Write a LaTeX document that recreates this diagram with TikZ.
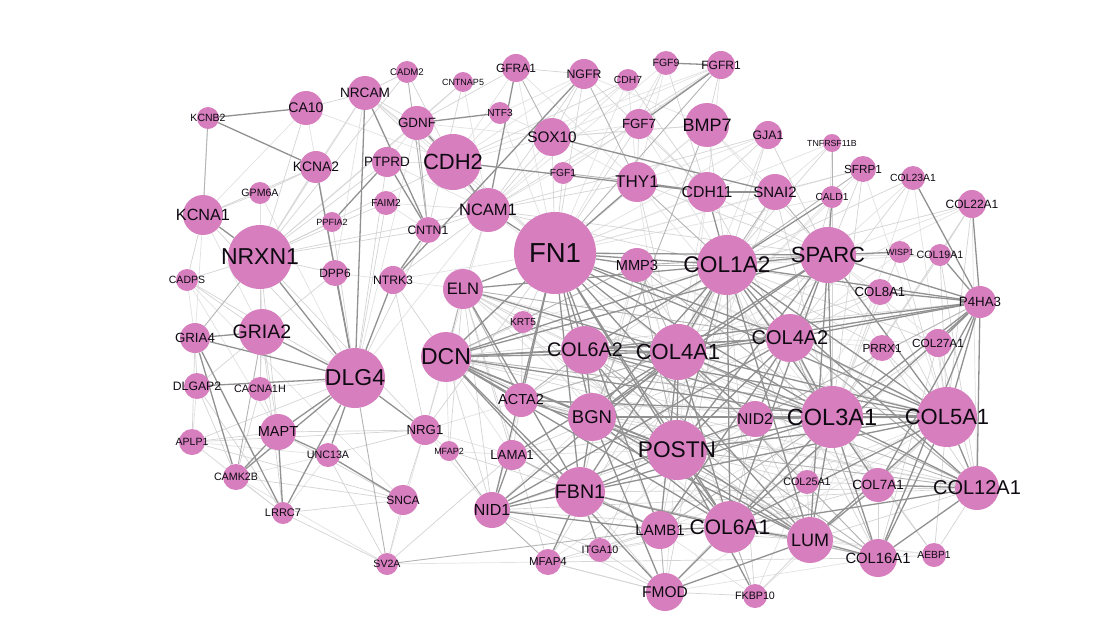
\documentclass[tikz,border=0pt]{standalone}
\usepackage{fontspec}
\setmainfont{Liberation Sans}
\pgfdeclarelayer{bg}
\pgfsetlayers{bg,main}
\definecolor{pk}{RGB}{214,126,190}
\definecolor{lbl}{RGB}{15,10,18}
\definecolor{edk}{RGB}{145,145,145}
\definecolor{emd}{RGB}{180,180,180}
\definecolor{elt}{RGB}{212,212,212}
\definecolor{ext}{RGB}{226,226,226}
\newcommand\zl[1]{\hbox to 0pt{\hss#1\hss}}
\tikzset{
  gn/.style 2 args={circle, fill=pk, draw=none, inner sep=0pt, minimum size={2*#1}, text=lbl, font=\fontsize{#2}{#2}\selectfont},
  ed/.style={draw=edk, line width=1.3pt},
  em/.style={draw=emd, line width=0.9pt},
  el/.style={draw=elt, line width=0.7pt},
  ex/.style={draw=ext, line width=0.7pt}
}
\begin{document}
\begin{tikzpicture}[x=1pt,y=-1pt]
\useasboundingbox (0,0) rectangle (1110,626);
% nodes
\node[gn={11}{10.5}] (KCNB2) at (208,118) {\zl{KCNB2}};
\node[gn={17}{14}] (CA10) at (306,108) {\zl{CA10}};
\node[gn={17}{13.6}] (NRCAM) at (365,93) {\zl{NRCAM}};
\node[gn={11}{9.6}] (CADM2) at (407,72) {\zl{CADM2}};
\node[gn={10}{9}] (CNTNAP5) at (463,82) {\zl{CNTNAP5}};
\node[gn={14}{12}] (GFRA1) at (516,68) {\zl{GFRA1}};
\node[gn={15}{12.3}] (NGFR) at (584,74) {\zl{NGFR}};
\node[gn={11}{10.3}] (CDH7) at (628,80) {\zl{CDH7}};
\node[gn={12}{10.5}] (FGF9) at (666,63) {\zl{FGF9}};
\node[gn={14}{12}] (FGFR1) at (721,65) {\zl{FGFR1}};
\node[gn={11}{10.2}] (NTF3) at (500,113) {\zl{NTF3}};
\node[gn={17}{13.4}] (GDNF) at (417,123) {\zl{GDNF}};
\node[gn={19}{15.3}] (SOX10) at (552,137) {\zl{SOX10}};
\node[gn={15}{13.3}] (FGF7) at (639,124) {\zl{FGF7}};
\node[gn={22}{18}] (BMP7) at (707,125) {\zl{BMP7}};
\node[gn={14}{12.3}] (GJA1) at (768,135) {\zl{GJA1}};
\node[gn={9}{8.8}] (TNFRSF11B) at (832,143) {\zl{TNFRSF11B}};
\node[gn={13}{11.7}] (SFRP1) at (863,169) {\zl{SFRP1}};
\node[gn={12}{10.4}] (COL23A1) at (913,178) {\zl{COL23A1}};
\node[gn={14}{12}] (COL22A1) at (972,204) {\zl{COL22A1}};
\node[gn={16}{13.8}] (KCNA2) at (316,167) {\zl{KCNA2}};
\node[gn={15}{13.5}] (PTPRD) at (387,162) {\zl{PTPRD}};
\node[gn={28}{22}] (CDH2) at (453,162) {\zl{CDH2}};
\node[gn={11}{10.3}] (FGF1) at (563,173) {\zl{FGF1}};
\node[gn={20}{17}] (THY1) at (637,182) {\zl{THY1}};
\node[gn={20}{15.8}] (CDH11) at (707,192) {\zl{CDH11}};
\node[gn={18}{15}] (SNAI2) at (775,192) {\zl{SNAI2}};
\node[gn={11}{10.2}] (CALD1) at (832,197) {\zl{CALD1}};
\node[gn={11}{10.6}] (GPM6A) at (260,193) {\zl{GPM6A}};
\node[gn={12}{10.2}] (FAIM2) at (386,203) {\zl{FAIM2}};
\node[gn={10}{9}] (PPFIA2) at (332,222) {\zl{PPFIA2}};
\node[gn={13}{12.2}] (CNTN1) at (428,230) {\zl{CNTN1}};
\node[gn={22}{16.5}] (NCAM1) at (488,210) {\zl{NCAM1}};
\node[gn={20}{16.2}] (KCNA1) at (203,215) {\zl{KCNA1}};
\node[gn={32}{23}] (NRXN1) at (260,257) {\zl{NRXN1}};
\node[gn={41}{27.5}] (FN1) at (555,253) {\zl{FN1}};
\node[gn={17}{14.6}] (MMP3) at (637,265) {\zl{MMP3}};
\node[gn={30}{22.7}] (COL1A2) at (727,265) {\zl{COL1A2}};
\node[gn={28}{22}] (SPARC) at (828,255) {\zl{SPARC}};
\node[gn={11}{9}] (WISP1) at (900,252) {\zl{WISP1}};
\node[gn={11}{10.6}] (COL19A1) at (940,255) {\zl{COL19A1}};
\node[gn={11}{10.5}] (CADPS) at (187,280) {\zl{CADPS}};
\node[gn={13}{12}] (DPP6) at (335,273) {\zl{DPP6}};
\node[gn={14}{12.2}] (NTRK3) at (393,280) {\zl{NTRK3}};
\node[gn={20}{16.6}] (ELN) at (463,289) {\zl{ELN}};
\node[gn={13}{13.2}] (COL8A1) at (880,292) {\zl{COL8A1}};
\node[gn={16}{13.3}] (P4HA3) at (980,302) {\zl{P4HA3}};
\node[gn={11}{10.2}] (KRT5) at (523,322) {\zl{KRT5}};
\node[gn={15}{13.3}] (GRIA4) at (195,338) {\zl{GRIA4}};
\node[gn={23}{19.5}] (GRIA2) at (262,332) {\zl{GRIA2}};
\node[gn={25}{23}] (DCN) at (446,357) {\zl{DCN}};
\node[gn={24}{19.7}] (COL6A2) at (585,350) {\zl{COL6A2}};
\node[gn={28}{22}] (COL4A1) at (678,352) {\zl{COL4A1}};
\node[gn={24}{20}] (COL4A2) at (790,338) {\zl{COL4A2}};
\node[gn={13}{11.7}] (PRRX1) at (882,348) {\zl{PRRX1}};
\node[gn={14}{11.8}] (COL27A1) at (938,343) {\zl{COL27A1}};
\node[gn={13}{12.2}] (DLGAP2) at (197,386) {\zl{DLGAP2}};
\node[gn={12}{10.8}] (CACNA1H) at (260,389) {\zl{CACNA1H}};
\node[gn={30}{23}] (DLG4) at (355,378) {\zl{DLG4}};
\node[gn={17}{14.5}] (ACTA2) at (521,400) {\zl{ACTA2}};
\node[gn={24}{18.5}] (BGN) at (592,417) {\zl{BGN}};
\node[gn={18}{15.7}] (NID2) at (755,419) {\zl{NID2}};
\node[gn={31}{23.5}] (COL3A1) at (832,417) {\zl{COL3A1}};
\node[gn={30}{22}] (COL5A1) at (947,417) {\zl{COL5A1}};
\node[gn={13}{10.5}] (APLP1) at (192,442) {\zl{APLP1}};
\node[gn={18}{14.5}] (MAPT) at (278,432) {\zl{MAPT}};
\node[gn={15}{13.2}] (NRG1) at (425,430) {\zl{NRG1}};
\node[gn={12}{10.7}] (UNC13A) at (328,455) {\zl{UNC13A}};
\node[gn={10}{9}] (MFAP2) at (449,451) {\zl{MFAP2}};
\node[gn={15}{13.2}] (LAMA1) at (512,455) {\zl{LAMA1}};
\node[gn={30}{22.7}] (POSTN) at (677,450) {\zl{POSTN}};
\node[gn={13}{10.7}] (CAMK2B) at (236,477) {\zl{CAMK2B}};
\node[gn={25}{19.6}] (FBN1) at (580,492) {\zl{FBN1}};
\node[gn={18}{16}] (NID1) at (492,510) {\zl{NID1}};
\node[gn={12}{10.8}] (COL25A1) at (807,482) {\zl{COL25A1}};
\node[gn={17}{13.4}] (COL7A1) at (878,485) {\zl{COL7A1}};
\node[gn={22}{20}] (COL12A1) at (977,488) {\zl{COL12A1}};
\node[gn={15}{12}] (SNCA) at (403,500) {\zl{SNCA}};
\node[gn={11}{11}] (LRRC7) at (283,513) {\zl{LRRC7}};
\node[gn={19}{15}] (LAMB1) at (660,530) {\zl{LAMB1}};
\node[gn={26}{21}] (COL6A1) at (730,527) {\zl{COL6A1}};
\node[gn={23}{18}] (LUM) at (810,540) {\zl{LUM}};
\node[gn={19}{14.8}] (COL16A1) at (878,558) {\zl{COL16A1}};
\node[gn={12}{10.3}] (AEBP1) at (934,555) {\zl{AEBP1}};
\node[gn={12}{10.7}] (ITGA10) at (600,550) {\zl{ITGA10}};
\node[gn={13}{11.5}] (MFAP4) at (548,562) {\zl{MFAP4}};
\node[gn={19}{15.5}] (FMOD) at (665,592) {\zl{FMOD}};
\node[gn={12}{10.7}] (FKBP10) at (755,596) {\zl{FKBP10}};
\node[gn={11}{10.6}] (SV2A) at (387,564) {\zl{SV2A}};
% edges
\begin{pgfonlayer}{bg}
\fill[white] (0,0) rectangle (1110,626);
\foreach \a/\b in {CDH7/SOX10, CDH7/FN1, CDH7/NCAM1, CDH7/THY1, FGF9/FN1, FGF9/NCAM1, FGF9/THY1, FGFR1/CDH11, FGFR1/SOX10, FGFR1/CDH2, NTF3/NGFR, NTF3/SOX10, NTF3/FN1, NTF3/CDH2, CNTNAP5/GDNF, CNTNAP5/NCAM1, GFRA1/CDH2, GFRA1/FN1, GFRA1/THY1, NGFR/CDH2, NGFR/BMP7, SOX10/THY1, SOX10/CDH2, SOX10/BMP7, SOX10/GDNF, FGF7/COL1A2, FGF7/CDH11, FGF7/SOX10, FGF7/NCAM1, BMP7/THY1, BMP7/FN1, BMP7/SPARC, BMP7/SNAI2, GJA1/FN1, GJA1/THY1, GJA1/COL4A1, TNFRSF11B/SPARC, TNFRSF11B/FN1, TNFRSF11B/SNAI2, SFRP1/FN1, SFRP1/COL4A1, SFRP1/COL5A1, COL23A1/COL3A1, COL23A1/COL5A1, COL23A1/SPARC, COL22A1/COL4A1, COL22A1/COL12A1, COL22A1/SPARC, CALD1/FN1, CALD1/COL4A1, THY1/POSTN, THY1/COL3A1, CDH11/FN1, CDH11/COL4A1, CDH11/POSTN, SNAI2/FN1, SNAI2/POSTN, NCAM1/DLG4, NCAM1/COL4A1, NCAM1/DCN, KCNA1/GRIA2, KCNA1/GRIA4, GPM6A/NRXN1, GPM6A/DLG4, CA10/DLG4, CA10/KCNA1, CA10/CDH2, NRCAM/FN1, NRCAM/KCNA2, NRCAM/DPP6, GDNF/FN1, GDNF/NRXN1, GDNF/PTPRD, GDNF/DLG4, PTPRD/NCAM1, PTPRD/CDH2, FAIM2/CNTN1, FAIM2/NCAM1, CADPS/GRIA4, CADPS/SNCA, CADPS/MAPT, DPP6/NTRK3, NTRK3/FN1, NTRK3/ELN, APLP1/CAMK2B, APLP1/LRRC7, APLP1/UNC13A, APLP1/DLGAP2, CAMK2B/UNC13A, LRRC7/UNC13A, SV2A/NRG1, SV2A/MFAP4, SV2A/CAMK2B, NRG1/NID1, NRG1/LAMA1, NRG1/ELN, NRG1/COL4A1, MFAP2/LAMA1, MFAP2/DCN, DCN/NID2, ELN/POSTN, ELN/COL6A1, ELN/COL5A1, KRT5/COL1A2, KRT5/BGN, KRT5/COL6A2, MMP3/COL5A1, MMP3/COL6A1, MMP3/BGN, MMP3/COL4A2, COL6A2/NID2, COL6A2/LAMB1, WISP1/COL1A2, WISP1/COL4A2, COL19A1/SPARC, COL19A1/COL1A2, COL8A1/SPARC, COL8A1/COL6A1, PRRX1/SPARC, PRRX1/COL4A2, PRRX1/LUM, COL27A1/SPARC, COL27A1/COL4A2, COL27A1/COL6A1, COL25A1/COL5A1, COL25A1/COL6A1, COL25A1/COL4A1, COL7A1/POSTN, COL7A1/COL4A1, COL16A1/COL4A1, COL16A1/FMOD, AEBP1/LUM, AEBP1/COL6A1, FKBP10/COL3A1, FKBP10/COL5A1, FKBP10/LAMB1, FMOD/POSTN, FMOD/COL5A1, ITGA10/POSTN, ITGA10/COL3A1, MFAP4/NID2, MFAP4/COL6A1, LAMA1/POSTN, LAMA1/DCN, LAMB1/COL5A1, NID1/COL5A1, NID1/BGN, NID1/ACTA2}
  \draw[ex] (\a) -- (\b);
\foreach \a/\b in {KCNB2/KCNA1, KCNA1/GPM6A, GPM6A/KCNA2, KCNA1/DLG4, KCNA1/KCNA2, KCNA1/CADPS, CA10/NRXN1, CA10/NRCAM, NRCAM/NRXN1, NRCAM/CDH2, NRCAM/NCAM1, NRCAM/GDNF, NRCAM/CADM2, CADM2/NRXN1, CADM2/CDH2, CNTNAP5/CNTN1, CNTNAP5/NRXN1, GFRA1/GDNF, GFRA1/NGFR, NGFR/SOX10, NGFR/FN1, NGFR/NCAM1, CDH7/CDH2, CDH7/CDH11, FGF9/FGF7, FGFR1/FGF1, FGFR1/NCAM1, FGFR1/BMP7, FGF7/FN1, FGF1/FN1, BMP7/COL1A2, BMP7/SOX10, GJA1/CDH11, GJA1/NCAM1, GJA1/COL1A2, GJA1/SPARC, TNFRSF11B/COL1A2, SFRP1/SPARC, SFRP1/SNAI2, COL23A1/COL1A2, COL23A1/COL4A2, COL22A1/COL5A1, COL22A1/COL3A1, COL22A1/COL1A2, COL22A1/COL19A1, KCNA2/NRXN1, PTPRD/NRXN1, PTPRD/DLG4, FAIM2/DLG4, FAIM2/NRXN1, PPFIA2/NRXN1, PPFIA2/DLG4, CNTN1/NRXN1, CNTN1/NCAM1, CNTN1/DLG4, NCAM1/NRXN1, NCAM1/NTRK3, NCAM1/THY1, NCAM1/ELN, NCAM1/COL1A2, NRXN1/GRIA2, NRXN1/CADPS, NRXN1/DPP6, NRXN1/CACNA1H, NRXN1/MAPT, NRXN1/NRG1, DPP6/KCNA2, DPP6/GRIA2, NTRK3/NRG1, NTRK3/DCN, GRIA2/MAPT, GRIA2/CACNA1H, GRIA2/LRRC7, GRIA2/DLGAP2, GRIA4/DLGAP2, GRIA4/APLP1, CADPS/DLG4, CADPS/GRIA2, DLGAP2/CAMK2B, DLGAP2/LRRC7, CACNA1H/DLG4, CACNA1H/CAMK2B, CACNA1H/MAPT, APLP1/MAPT, APLP1/DLG4, APLP1/SNCA, APLP1/NRG1, MAPT/SNCA, MAPT/NRG1, UNC13A/SV2A, UNC13A/NRG1, SNCA/SV2A, SNCA/NRG1, SNCA/LRRC7, LRRC7/SV2A, LRRC7/CAMK2B, CAMK2B/SNCA, NRG1/DCN, NRG1/MFAP2, MFAP2/FBN1, MFAP2/ELN, SV2A/LAMA1, NRG1/FN1, DCN/KRT5, KRT5/FN1, KRT5/ELN, KRT5/COL4A1, KRT5/ACTA2, KRT5/POSTN, THY1/COL4A1, SNAI2/COL3A1, CALD1/COL4A2, COL8A1/COL1A2, COL8A1/COL3A1, COL8A1/COL4A1, COL8A1/COL4A2, COL8A1/COL5A1, PRRX1/COL1A2, PRRX1/COL3A1, PRRX1/COL5A1, PRRX1/COL12A1, COL27A1/COL5A1, COL27A1/COL3A1, COL27A1/COL1A2, COL27A1/COL12A1, COL27A1/COL16A1, WISP1/COL3A1, COL19A1/COL5A1, COL19A1/COL12A1, COL25A1/COL3A1, COL25A1/COL1A2, COL25A1/LUM, COL25A1/POSTN, COL25A1/COL12A1, COL7A1/COL5A1, COL7A1/COL1A2, COL7A1/COL6A1, COL7A1/COL16A1, COL12A1/LUM, COL12A1/AEBP1, COL12A1/COL4A2, AEBP1/COL5A1, AEBP1/COL1A2, AEBP1/COL3A1, AEBP1/COL16A1, COL16A1/COL6A1, COL16A1/COL1A2, FKBP10/COL1A2, FKBP10/LUM, FKBP10/FMOD, FMOD/FBN1, FMOD/COL1A2, FMOD/COL3A1, FMOD/ITGA10, FMOD/NID1, FMOD/MFAP4, ITGA10/COL1A2, ITGA10/COL6A1, ITGA10/NID1, ITGA10/LAMB1, MFAP4/LAMB1, MFAP4/ELN, MFAP4/FMOD, LAMA1/ACTA2, LAMA1/FBN1, LAMA1/NID2, LAMB1/NID2, LAMB1/POSTN, LAMB1/LUM, NID2/POSTN, NID2/COL6A1, NID2/LUM, ELN/LAMA1, ELN/COL6A2, NID1/DCN, NID1/ELN, NID1/COL6A1, NID1/POSTN, NID1/COL12A1, MFAP4/COL16A1, DCN/COL12A1, ELN/COL3A1, DCN/P4HA3, NCAM1/SPARC, THY1/SPARC, CDH11/COL3A1, CDH11/SPARC, SNAI2/COL4A1, GDNF/NCAM1, CDH2/NRXN1, CDH2/FN1, SOX10/FN1, SOX10/NCAM1, NGFR/CDH11, FGF7/THY1, FGF9/CDH11, ACTA2/COL1A2, ACTA2/COL3A1, LAMA1/COL4A2, MMP3/FBN1, MMP3/LUM, COL1A2/MFAP4, SPARC/FBN1, COL19A1/COL3A1, WISP1/COL5A1, SFRP1/COL3A1, CALD1/COL3A1, ELN/LUM, DCN/COL16A1, BGN/COL12A1, FBN1/COL12A1, ACTA2/COL12A1}
  \draw[el] (\a) -- (\b);
\foreach \a/\b in {DLG4/SV2A, NRXN1/GRIA4, GRIA2/CAMK2B, NGFR/THY1, FGFR1/FN1, BMP7/BGN, FGF1/THY1, CADM2/CNTN1, GDNF/CNTN1, GFRA1/SOX10, KCNB2/KCNA1, MMP3/COL1A2, MMP3/COL4A1, MMP3/SPARC, MMP3/POSTN, MMP3/COL3A1, MMP3/DCN, THY1/COL1A2, SNAI2/COL1A2, SNAI2/SPARC, NID1/MFAP4, ELN/DCN, ELN/ACTA2, ACTA2/COL4A1, ACTA2/COL6A2, ACTA2/BGN, LAMA1/LAMB1, TNFRSF11B/CALD1, SFRP1/COL1A2, MFAP2/NID1, SV2A/LAMB1, FKBP10/COL6A1, FMOD/LAMB1, COL4A2/COL12A1, COL4A1/COL12A1, COL6A2/COL12A1, DCN/COL5A1, POSTN/COL12A1, BGN/COL16A1, FBN1/COL16A1, COL6A2/LUM, LAMB1/COL3A1, COL4A1/COL16A1, COL6A2/COL16A1, COL4A2/COL16A1, ELN/COL4A2, NID2/COL5A1, NID2/P4HA3}
  \draw[em] (\a) -- (\b);
\foreach \a/\b in {NRXN1/DLG4, KCNA1/NRXN1, GRIA2/GRIA4, GRIA4/DLG4, GRIA2/DLG4, DLGAP2/DLG4, DLG4/MAPT, DLG4/CAMK2B, DLG4/NRG1, DLG4/DPP6, DLG4/NTRK3, KCNA2/DLG4, MAPT/CAMK2B, MAPT/LRRC7, MAPT/UNC13A, UNC13A/SNCA, GRIA4/CAMK2B, GRIA4/LRRC7, NRCAM/DLG4, NRCAM/CNTN1, PTPRD/PPFIA2, PTPRD/CNTN1, CNTN1/NTRK3, CDH2/NCAM1, CDH2/GDNF, GDNF/NTF3, GFRA1/NCAM1, NGFR/NTRK3, KCNB2/KCNA2, KCNB2/CA10, FGF9/FGFR1, FGFR1/FGF7, CDH2/CDH11, SOX10/SNAI2, CDH11/SNAI2, THY1/CDH11, NCAM1/FN1, DLG4/LRRC7, DLG4/UNC13A,
  FN1/COL1A2, FN1/SPARC, FN1/COL3A1, FN1/COL5A1, FN1/POSTN, FN1/DCN, FN1/ELN, FN1/BGN, FN1/FBN1, FN1/COL4A1, FN1/COL6A1, FN1/MMP3, FN1/THY1, FN1/ACTA2, FN1/COL4A2, FN1/LUM, FN1/NID1, FN1/COL6A2, FN1/LAMB1,
  COL1A2/SPARC, COL1A2/COL3A1, COL1A2/COL5A1, COL1A2/COL4A1, COL1A2/COL4A2, COL1A2/POSTN, COL1A2/DCN, COL1A2/BGN, COL1A2/LUM, COL1A2/COL6A1, COL1A2/COL6A2, COL1A2/P4HA3, COL1A2/CDH11, COL1A2/CALD1, COL1A2/ELN, COL1A2/FBN1, COL1A2/COL12A1,
  SPARC/COL3A1, SPARC/COL5A1, SPARC/WISP1, SPARC/COL4A1, SPARC/COL4A2, SPARC/POSTN, SPARC/COL6A1, SPARC/DCN, SPARC/CALD1, SPARC/BGN, SPARC/LUM,
  COL3A1/COL5A1, COL3A1/COL4A1, COL3A1/COL4A2, COL3A1/POSTN, COL3A1/DCN, COL3A1/BGN, COL3A1/LUM, COL3A1/COL6A1, COL3A1/COL6A2, COL3A1/COL12A1, COL3A1/P4HA3, COL3A1/FBN1, COL3A1/COL7A1, COL3A1/NID2,
  COL5A1/COL4A1, COL5A1/COL4A2, COL5A1/POSTN, COL5A1/BGN, COL5A1/LUM, COL5A1/COL6A1, COL5A1/COL6A2, COL5A1/COL12A1, COL5A1/P4HA3, COL5A1/COL16A1, COL5A1/FBN1, COL5A1/ACTA2,
  COL4A1/COL4A2, COL4A1/POSTN, COL4A1/DCN, COL4A1/BGN, COL4A1/NID1, COL4A1/NID2, COL4A1/LAMB1, COL4A1/LAMA1, COL4A1/COL6A1, COL4A1/COL6A2, COL4A1/P4HA3, COL4A1/ELN,
  COL4A2/NID2, COL4A2/NID1, COL4A2/LAMB1, COL4A2/P4HA3, COL4A2/DCN, COL4A2/COL6A2, COL4A2/POSTN,
  POSTN/BGN, POSTN/DCN, POSTN/FBN1, POSTN/LUM, POSTN/COL6A1, POSTN/FKBP10, POSTN/ACTA2,
  DCN/BGN, DCN/LUM, DCN/COL6A1, DCN/COL6A2, DCN/FMOD, DCN/FBN1, DCN/ACTA2,
  BGN/LUM, BGN/COL6A1, BGN/COL6A2, BGN/FBN1, BGN/FMOD,
  FBN1/ELN, FBN1/MFAP4, FBN1/LAMB1, FBN1/ITGA10, FBN1/COL6A1, FBN1/NID1,
  NID1/LAMA1, NID1/LAMB1, NID1/NID2, LUM/FMOD, LUM/COL6A1, LUM/COL7A1, COL6A1/COL6A2, COL6A1/FMOD, COL6A1/COL12A1, COL6A1/LAMB1,
  P4HA3/COL8A1, P4HA3/COL27A1, P4HA3/COL12A1, P4HA3/COL22A1, P4HA3/COL23A1, P4HA3/COL19A1, P4HA3/COL16A1, P4HA3/COL6A1, P4HA3/COL6A2, P4HA3/COL7A1, P4HA3/SPARC,
  COL7A1/COL12A1, COL16A1/COL12A1, COL16A1/LUM, COL16A1/COL3A1}
  \draw[ed] (\a) -- (\b);
\end{pgfonlayer}
\end{tikzpicture}
\end{document}
